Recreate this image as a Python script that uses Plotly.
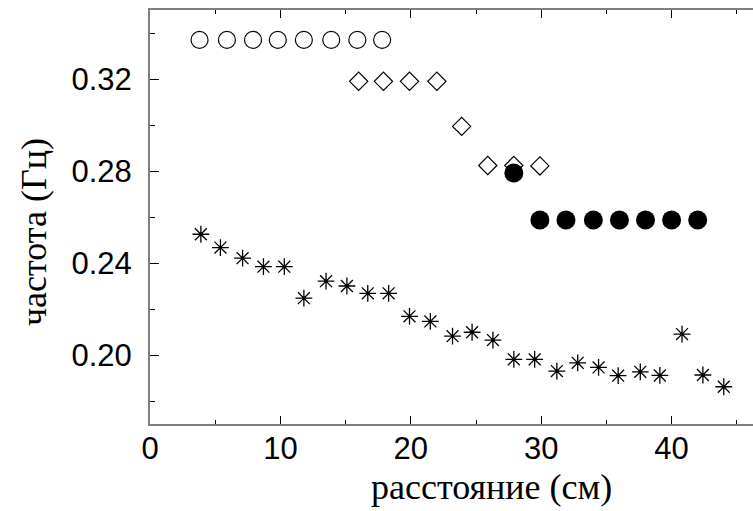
import plotly.graph_objects as go

# Data
open_circle_x = [3.8, 5.9, 7.9, 9.8, 11.8, 13.9, 15.9, 17.8]
open_circle_y = [0.337, 0.337, 0.337, 0.337, 0.337, 0.337, 0.337, 0.337]

diamond_x = [16.0, 17.9, 19.9, 22.0, 23.9, 25.9, 27.9, 29.9]
diamond_y = [0.319, 0.319, 0.319, 0.319, 0.2994, 0.2824, 0.2824, 0.2822]

filled_x = [27.9, 29.9, 31.9, 34.0, 36.0, 38.0, 40.0, 42.0]
filled_y = [0.2791, 0.2587, 0.2587, 0.2587, 0.2587, 0.2587, 0.2587, 0.2587]

star_x = [3.9, 5.4, 7.1, 8.7, 10.3, 11.8, 13.5, 15.1, 16.7, 18.3, 19.9, 21.5,
          23.2, 24.7, 26.3, 27.9, 29.5, 31.2, 32.8, 34.4, 35.9, 37.6, 39.1,
          40.8, 42.4, 44.0]
star_y = [0.2525, 0.2467, 0.2421, 0.2384, 0.2384, 0.2247, 0.2321, 0.2300,
          0.2268, 0.2268, 0.2168, 0.2146, 0.2082, 0.2099, 0.2065, 0.1981,
          0.1981, 0.1930, 0.1966, 0.1946, 0.1910, 0.1927, 0.1911, 0.2091,
          0.1913, 0.1862]

x_tick_vals = [0, 10, 20, 30, 40]
y_tick_vals = [0.20, 0.24, 0.28, 0.32]
x_title = "расстояние (см)"
y_title = "частота (Гц)"

W, H = 753, 511
L, R, T, B = 150, 0, 10, 87
pw, ph = W - L - R, H - T - B
x_range = [0, pw / 13.04]

fig = go.Figure()
fig.add_trace(go.Scatter(x=open_circle_x, y=open_circle_y, mode="markers",
                         marker=dict(symbol="circle-open", size=17, color="black",
                                     line=dict(width=1.2, color="black"))))
fig.add_trace(go.Scatter(x=diamond_x, y=diamond_y, mode="markers",
                         marker=dict(symbol="diamond-open", size=14, color="black",
                                     line=dict(width=1.2, color="black"))))
fig.add_trace(go.Scatter(x=filled_x, y=filled_y, mode="markers",
                         marker=dict(symbol="circle", size=19, color="black",
                                     line=dict(width=0))))
fig.add_trace(go.Scatter(x=star_x, y=star_y, mode="markers",
                         marker=dict(symbol="asterisk-open", size=14, color="black",
                                     line=dict(width=1.3, color="black"))))
fig.add_trace(go.Scatter(x=star_x, y=star_y, mode="markers",
                         marker=dict(symbol="square", size=3, color="black",
                                     line=dict(width=0))))
# empty trace so that the top (mirrored) axis is created and drawn
fig.add_trace(go.Scatter(x=[], y=[], mode="markers", xaxis="x2", yaxis="y",
                         hoverinfo="skip"))

tickfont = dict(family="Liberation Sans, Arial", size=31, color="black")
xcommon = dict(range=x_range, tickvals=x_tick_vals,
               ticks="inside", ticklen=8, tickwidth=1, tickcolor="black",
               minor=dict(dtick=5, tick0=0, ticks="inside", ticklen=4,
                          tickwidth=1, tickcolor="black"),
               showline=True, linecolor="#808080", linewidth=2,
               showgrid=False, zeroline=False)
fig.update_layout(
    width=W, height=H,
    margin=dict(l=L, r=R, t=T, b=B, pad=0),
    paper_bgcolor="white", plot_bgcolor="white",
    showlegend=False,
    xaxis=dict(**xcommon, mirror=False, tickfont=tickfont, ticklabelstandoff=-4),
    xaxis2=dict(**xcommon, overlaying="x", side="top", anchor="y",
                showticklabels=False),
    yaxis=dict(range=[0.17, 0.35], tickvals=y_tick_vals, tickformat=".2f",
               ticks="inside", ticklen=9, tickwidth=1, tickcolor="black",
               minor=dict(dtick=0.02, tick0=0.18, ticks="inside", ticklen=5,
                          tickwidth=1, tickcolor="black"),
               showline=True, linecolor="#808080", linewidth=2, mirror=False,
               showgrid=False, zeroline=False, tickfont=tickfont,
               ticklabelstandoff=10),
)

titlefont = dict(family="Liberation Serif, Times New Roman", size=36, color="black")
fig.add_annotation(text=x_title, xref="paper", yref="paper",
                   x=(491 - L) / pw, y=(H - B - 509) / ph,
                   xanchor="center", yanchor="bottom", showarrow=False,
                   font=titlefont)
fig.add_annotation(text=y_title, xref="paper", yref="paper",
                   x=(34 - L) / pw, y=(H - B - 232) / ph, textangle=-90,
                   xanchor="center", yanchor="middle", showarrow=False,
                   font=titlefont)

fig.write_html("out.html", config={"displayModeBar": False},
               post_script="document.body.style.margin='0';"
                           "document.body.style.overflow='hidden';")
